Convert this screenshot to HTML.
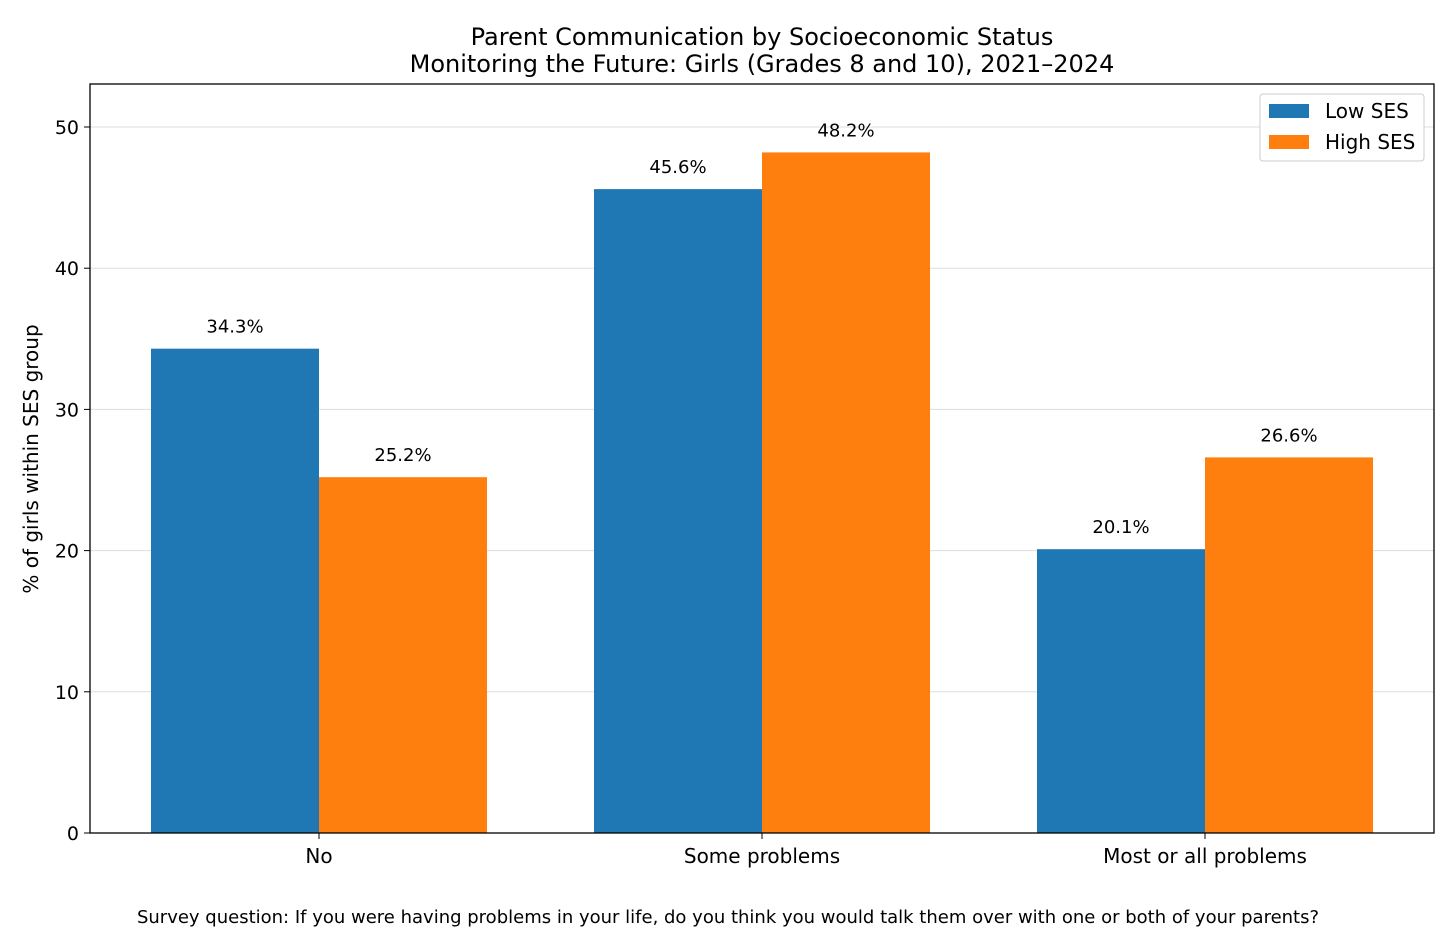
<!DOCTYPE html>
<html><head><meta charset="utf-8"><style>
body{margin:0;background:#fff;}
svg{display:block;font-family:"DejaVu Sans","Liberation Sans",sans-serif;}
</style></head><body>
<svg id="chart" width="1456" height="946">
<text x="762" y="45" text-anchor="middle" font-size="24">Parent Communication by Socioeconomic Status</text>
<text x="762" y="72" text-anchor="middle" font-size="24">Monitoring the Future: Girls (Grades 8 and 10), 2021–2024</text>
<g id="grid"></g><g id="bars"></g><g id="labels"></g>
<rect x="90" y="84" width="1344" height="749" fill="none" stroke="#000" stroke-width="1.3"/>
<g id="yticks"></g><g id="xticks"></g>
<text transform="translate(38,459) rotate(-90)" text-anchor="middle" font-size="20">% of girls within SES group</text>
<text x="728" y="923" text-anchor="middle" font-size="18">Survey question: If you were having problems in your life, do you think you would talk them over with one or both of your parents?</text>
<g>
<rect x="1260" y="94" width="164" height="67" rx="3" fill="#fff" stroke="#ccc"/>
<rect x="1269" y="104" width="40" height="14" fill="#1f77b4"/>
<text x="1325" y="118" font-size="20">Low SES</text>
<rect x="1269" y="135" width="40" height="14" fill="#ff7f0e"/>
<text x="1325" y="149" font-size="20">High SES</text>
</g>
</svg>
<script>
const categories=["No","Some problems","Most or all problems"];
const lowSES=[34.3,45.6,20.1];
const highSES=[25.2,48.2,26.6];
const yTicks=[0,10,20,30,40,50];
const NS="http://www.w3.org/2000/svg";
const y=v=>833-v*14.12;
const x=i=>319+i*443;
const bw=168;
function mk(tag,attrs,parent){const e=document.createElementNS(NS,tag);for(const k in attrs)e.setAttribute(k,attrs[k]);document.getElementById(parent).appendChild(e);return e;}
yTicks.forEach(t=>{
  const g=mk('line',{x1:90,x2:1434,y1:y(t),y2:y(t),stroke:'#ddd','stroke-width':1},'grid');
  
  
  const tk=mk('line',{x1:84,x2:90,y1:y(t),y2:y(t),stroke:'#000'},'yticks');
  
  
  const tl=mk('text',{x:79,y:y(t)+7,'text-anchor':'end','font-size':19},'yticks');
  tl.textContent=t;
  
  
});
categories.forEach((c,i)=>{
  const tk=mk('line',{x1:x(i),x2:x(i),y1:833,y2:839,stroke:'#000'},'xticks');
  
  
  const tl=mk('text',{x:x(i),y:863,'text-anchor':'middle','font-size':20},'xticks');
  tl.textContent=c;
  
  
  [[lowSES,'#1f77b4',-bw,'low'],[highSES,'#ff7f0e',0,'high']].forEach(([s,col,off,nm])=>{
    const v=s[i];
    const b=mk('rect',{x:x(i)+off,y:y(v),width:bw,height:y(0)-y(v),fill:col},'bars');
    
    
    const l=mk('text',{x:x(i)+off+bw/2,y:y(v)-16,'text-anchor':'middle','font-size':18},'labels');
    l.textContent=v.toFixed(1)+'%';
    
    
  });
});
</script>
</body></html>
